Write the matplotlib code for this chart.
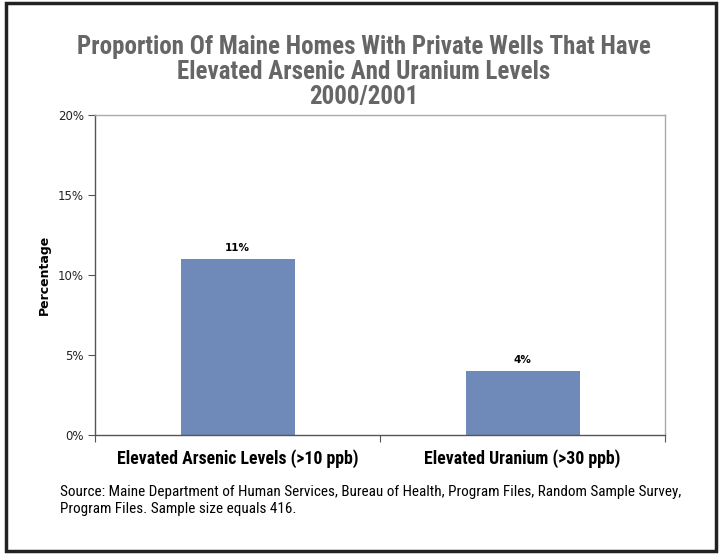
import matplotlib
matplotlib.use("Agg")
import matplotlib.pyplot as plt
from matplotlib.patches import Rectangle

categories = ["Elevated Arsenic Levels (>10 ppb)", "Elevated Uranium (>30 ppb)"]
values = [11, 4]
value_labels = ["11%", "4%"]
yticks = [0, 5, 10, 15, 20]
ytick_labels = ["0%", "5%", "10%", "15%", "20%"]

narrow = ["Roboto Condensed", "Archivo Narrow", "DejaVu Sans"]

fig = plt.figure(figsize=(7.21, 5.55), dpi=100)
ax = fig.add_axes([95 / 721, 1 - 435 / 555, 570 / 721, 320 / 555])

x = list(range(len(categories)))
ax.bar(x, values, width=0.4, color="#6f89b8")
for xi, v, lab in zip(x, values, value_labels):
    ax.text(xi, v + 0.4, lab, ha="center", va="bottom", fontsize=7.5,
            fontweight="bold", family="DejaVu Sans")

ax.set_xlim(-0.5, len(categories) - 0.5)
ax.set_ylim(0, 20)
ax.set_yticks(yticks)
ax.set_yticklabels(ytick_labels, fontsize=8.5, color="#222222")
ax.set_xticks([i - 0.5 for i in range(len(categories) + 1)])
ax.set_xticklabels([])
ax.set_xticks(x, minor=True)
ax.set_xticklabels(categories, minor=True, fontsize=12.8, fontweight="bold",
                   family=narrow)
ax.tick_params(axis="x", which="minor", length=0, pad=10)
ax.tick_params(axis="x", which="major", length=5, color="#555555")
ax.tick_params(axis="y", length=5, color="#555555", pad=3)

ax.spines["left"].set_color("#555555")
ax.spines["bottom"].set_color("#555555")
ax.spines["top"].set_color("#aaaaaa")
ax.spines["right"].set_color("#aaaaaa")
for s in ax.spines.values():
    s.set_linewidth(1.0)

ax.set_ylabel("Percentage", fontsize=9, fontweight="bold", labelpad=5)

fig.text(364 / 721, 1 - 35 / 555,
         "Proportion Of Maine Homes With Private Wells That Have\n"
         "Elevated Arsenic And Uranium Levels\n2000/2001",
         ha="center", va="top", fontsize=18, fontweight="bold",
         color="#666666", family=narrow, linespacing=1.05)

fig.text(60 / 721, 1 - 485 / 555,
         "Source: Maine Department of Human Services, Bureau of Health, Program Files, Random Sample Survey,\n"
         "Program Files. Sample size equals 416.",
         ha="left", va="top", fontsize=10.9, family=narrow, linespacing=1.3)

fig.patches.append(Rectangle((6 / 721, 4 / 555), 710 / 721, 548 / 555,
                             transform=fig.transFigure, fill=False,
                             edgecolor="#222222", linewidth=2.5))

fig.savefig("out.png", dpi=100)
